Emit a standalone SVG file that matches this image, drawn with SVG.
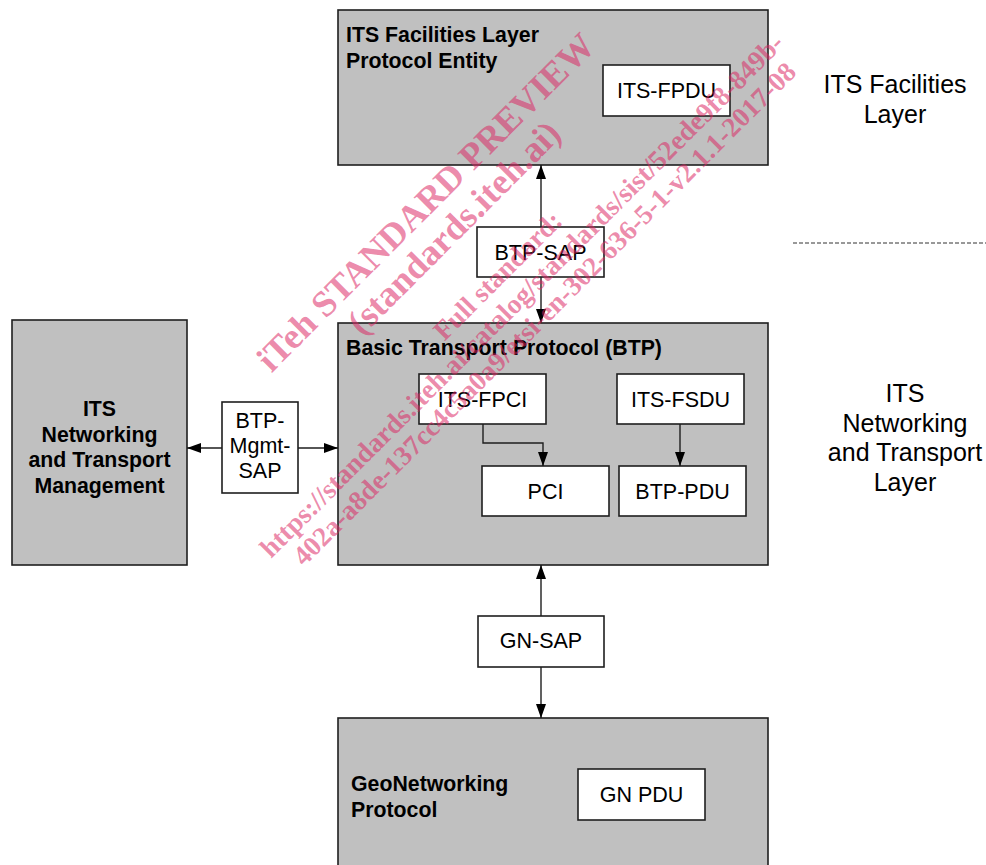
<svg xmlns="http://www.w3.org/2000/svg" width="986" height="865" viewBox="0 0 986 865">
<defs>
<style>
.big{fill:#c0c0c0;stroke:#1e1e1e;stroke-width:1.6}
.box{fill:#ffffff;stroke:#1e1e1e;stroke-width:1.6}
.t{font-family:"Liberation Sans",Arial,sans-serif;font-size:21.5px;fill:#000}
.b{font-weight:bold;font-size:21.3px}
.m{text-anchor:middle}
.lay{font-family:"Liberation Sans",Arial,sans-serif;font-size:25px;fill:#000;text-anchor:middle}
.c{fill:none;stroke:#1e1e1e;stroke-width:1.4}
.wm{font-family:"Liberation Serif","Times New Roman",serif;font-weight:bold;fill:#dc2864;fill-opacity:0.55;text-anchor:middle}
</style>
<marker id="ah" viewBox="0 0 14 10" refX="14" refY="5" markerWidth="14" markerHeight="10" markerUnits="userSpaceOnUse" orient="auto">
<path d="M0,0 L14,5 L0,10 z" fill="#000"/>
</marker>
</defs>
<rect width="986" height="865" fill="#ffffff"/>

<g id="facilities-entity">
<rect class="big" x="338" y="10" width="430" height="155"/>
<text class="t b" x="346" y="42">ITS Facilities Layer</text>
<text class="t b" x="346" y="68">Protocol Entity</text>
</g>
<g id="its-fpdu">
<rect class="box" x="603" y="65" width="127" height="51"/>
<text class="t m" x="666.5" y="98">ITS-FPDU</text>
</g>

<g id="btp">
<rect class="big" x="338" y="323" width="430" height="242"/>
<text class="t b" x="346" y="355">Basic Transport Protocol (BTP)</text>
</g>
<g id="its-fpci">
<rect class="box" x="419" y="374" width="127" height="50"/>
<text class="t m" x="482.5" y="406.5">ITS-FPCI</text>
</g>
<g id="its-fsdu">
<rect class="box" x="617" y="374" width="127" height="50"/>
<text class="t m" x="680.5" y="406.5">ITS-FSDU</text>
</g>
<g id="pci">
<rect class="box" x="482" y="466" width="127" height="50"/>
<text class="t m" x="545.5" y="498.5">PCI</text>
</g>
<g id="btp-pdu">
<rect class="box" x="619" y="466" width="127" height="50"/>
<text class="t m" x="682.5" y="498.5">BTP-PDU</text>
</g>

<g id="btp-sap">
<rect class="box" x="477" y="227" width="127" height="50"/>
<text class="t m" x="540.5" y="259.5">BTP-SAP</text>
</g>

<g id="mgmt">
<rect class="big" x="12" y="320" width="175" height="245"/>
<text class="t b m" x="99.5" y="416">ITS</text>
<text class="t b m" x="99.5" y="441.5">Networking</text>
<text class="t b m" x="99.5" y="467">and Transport</text>
<text class="t b m" x="99.5" y="492.5">Management</text>
</g>
<g id="btp-mgmt-sap">
<rect class="box" x="222" y="402" width="76" height="91"/>
<text class="t m" x="260" y="428">BTP-</text>
<text class="t m" x="260" y="453">Mgmt-</text>
<text class="t m" x="260" y="478">SAP</text>
</g>

<g id="gn-sap">
<rect class="box" x="478" y="616" width="126" height="51"/>
<text class="t m" x="541" y="648">GN-SAP</text>
</g>
<g id="geonetworking">
<rect class="big" x="338" y="718" width="430" height="160"/>
<text class="t b" x="351" y="791">GeoNetworking</text>
<text class="t b" x="351" y="817">Protocol</text>
</g>
<g id="gn-pdu">
<rect class="box" x="578" y="769" width="127" height="51"/>
<text class="t m" x="641.5" y="802">GN PDU</text>
</g>

<g id="layer-labels">
<text class="lay" x="895" y="93">ITS Facilities</text>
<text class="lay" x="895" y="123">Layer</text>
<line x1="793" y1="243" x2="986" y2="243" stroke="#333" stroke-width="1" stroke-dasharray="4,2"/>
<text class="lay" x="905" y="402">ITS</text>
<text class="lay" x="905" y="431.5">Networking</text>
<text class="lay" x="905" y="461">and Transport</text>
<text class="lay" x="905" y="490.5">Layer</text>
</g>

<g id="connectors">
<line class="c" x1="541" y1="227" x2="541" y2="165" marker-end="url(#ah)"/>
<line class="c" x1="541" y1="277" x2="541" y2="323" marker-end="url(#ah)"/>
<line class="c" x1="222" y1="448" x2="187" y2="448" marker-end="url(#ah)"/>
<line class="c" x1="298" y1="448" x2="338" y2="448" marker-end="url(#ah)"/>
<path class="c" d="M483,424 V443 H543 V466" marker-end="url(#ah)"/>
<line class="c" x1="680" y1="424" x2="680" y2="466" marker-end="url(#ah)"/>
<line class="c" x1="541" y1="616" x2="541" y2="565" marker-end="url(#ah)"/>
<line class="c" x1="541" y1="667" x2="541" y2="718" marker-end="url(#ah)"/>
</g>

<g id="watermark" transform="rotate(-45)">
<text class="wm" x="158" y="456" font-size="36.5">iTeh STANDARD PREVIEW</text>
<text class="wm" x="160" y="494" font-size="36.5">(standards.iteh.ai)</text>
<text class="wm" x="157" y="556" font-size="27.5">Full standard:</text>
<text class="wm" x="160" y="587" font-size="27.5">https://standards.iteh.ai/catalog/standards/sist/52ede9f8-849b-</text>
<text class="wm" x="163" y="616" font-size="27.5">402a-a8de-137cc4c5a0a9/etsi-en-302-636-5-1-v2.1.1-2017-08</text>
</g>
</svg>
